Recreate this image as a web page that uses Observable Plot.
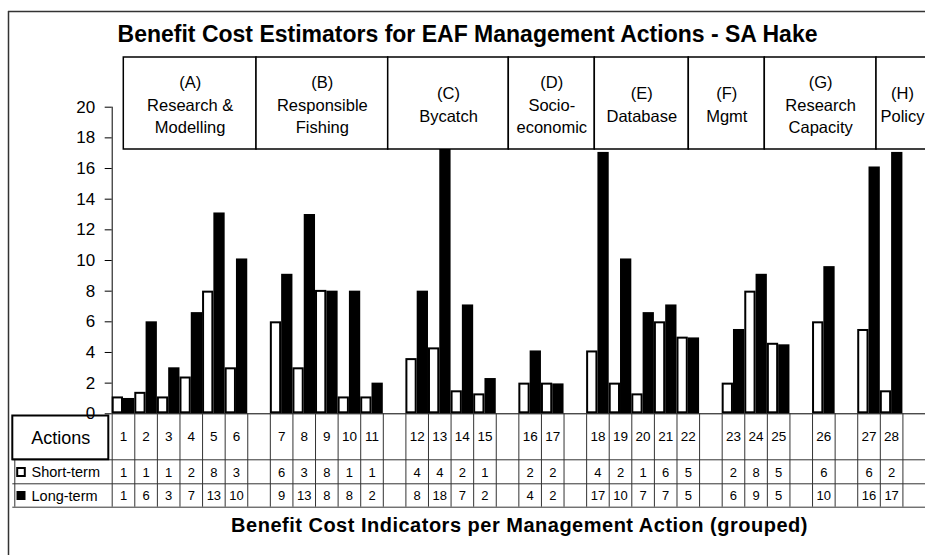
<!DOCTYPE html>
<html>
<head>
<meta charset="utf-8">
<script src="https://cdn.jsdelivr.net/npm/d3@7"></script>
<script src="https://cdn.jsdelivr.net/npm/@observablehq/plot@0.6"></script>
<style>
  html, body { margin: 0; padding: 0; background: #fff; }
  #chart svg { display: block; }
</style>
</head>
<body>
<div id="chart"></div>
<script>
// ---------------- DATA ----------------
const title = "Benefit Cost Estimators for EAF Management Actions - SA Hake";
const xTitle = "Benefit Cost Indicators per Management Action (grouped)";
const actions = [1,2,3,4,5,6, 7,8,9,10,11, 12,13,14,15, 16,17, 18,19,20,21,22, 23,24,25, 26, 27,28];
const groupSizes = [6, 5, 4, 2, 5, 3, 1, 2];
const groupLetters = ["(A)", "(B)", "(C)", "(D)", "(E)", "(F)", "(G)", "(H)"];
const groupNames = ["Research &\nModelling", "Responsible\nFishing", "Bycatch", "Socio-\neconomic", "Database", "Mgmt", "Research\nCapacity", "Policy"];
const shortTerm = [1.1,1.4,1.1,2.4,8.0,3.0, 6.0,3.0,8.05,1.1,1.1, 3.6,4.3,1.5,1.3, 2.0,2.0, 4.1,2.0,1.3,6.0,5.0, 2.0,8.0,4.6, 6.0, 5.5,1.5];
const longTerm  = [1.0,6.0,3.0,6.6,13.1,10.1, 9.1,13.0,8.0,8.0,2.0, 8.0,18.0,7.1,2.3, 4.1,1.95, 17.05,10.1,6.6,7.1,4.95, 5.5,9.1,4.5, 9.6, 16.1,17.05];
const shortLabels = [1,1,1,2,8,3, 6,3,8,1,1, 4,4,2,1, 2,2, 4,2,1,6,5, 2,8,5, 6, 6,2];
const longLabels  = [1,6,3,7,13,10, 9,13,8,8,2, 8,18,7,2, 4,2, 17,10,7,7,5, 6,9,5, 10, 16,17];
const rowNames = ["Actions", "Short-term", "Long-term"];
const yTicks = [0,2,4,6,8,10,12,14,16,18,20];

// ---------------- LAYOUT ----------------
const W = 925, H = 555;
const plotLeft = 111.7, y0px = 413.3, y20px = 106.7;
// column positions: one gap column after each group
const cols = [];
{ let c = 0; groupSizes.forEach(n => { for (let i = 0; i < n; i++) cols.push(c++); c++; }); }
const nCols = cols[cols.length - 1] + 2; // 35
const unit = (W - plotLeft) / nCols;
const X = px => (px - plotLeft) / unit;           // pixel -> x units
const Y = px => 20 * (y0px - px) / (y0px - y20px); // pixel -> y units

const rows = actions.map((a, i) => ({
  action: a, col: cols[i],
  short: shortTerm[i], long: longTerm[i],
  sLab: shortLabels[i], lLab: longLabels[i]
}));

// category boxes (hand-placed edges, pixels)
const boxEdgesPx = [123.3, 256, 387.7, 508.3, 594.3, 688.3, 764.3, 876, 928];
const boxes = groupLetters.map((g, i) => ({
  x1: X(boxEdgesPx[i]), x2: X(boxEdgesPx[i + 1]),
  label: g + "\n" + groupNames[i]
}));
const boxTop = 57, boxBottom = 149;

const font = "'Liberation Sans', Arial, Helvetica, sans-serif";
const lineCol = "#333";

const chart = Plot.plot({
  width: W, height: H,
  marginLeft: plotLeft, marginRight: 0,
  marginTop: y20px, marginBottom: H - y0px,
  style: { fontFamily: font, fontSize: "17px", color: "#000", background: "#fff", overflow: "hidden" },
  x: { domain: [0, nCols], axis: null },
  y: { domain: [0, 20], axis: null },
  marks: [
    // outer chart frame
    Plot.ruleX([X(8)], { y1: Y(11), y2: Y(H + 5), stroke: "#333", strokeWidth: 1.5 }),
    Plot.ruleY([Y(11)], { x1: X(8), x2: X(W + 5), stroke: "#333", strokeWidth: 1.5 }),
    // title
    Plot.text([title], { x: X(467), y: Y(34), text: d => d, fontSize: 23, fontWeight: "bold", fill: "#000" }),
    // bars
    Plot.rectY(rows, { x1: d => d.col, x2: d => d.col + 0.5, y1: 0, y2: "short", fill: "#fff", stroke: "#000", strokeWidth: 2, inset: 1 }),
    Plot.rectY(rows, { x1: d => d.col + 0.5, x2: d => d.col + 1, y1: 0, y2: "long", fill: "#000" }),
    // y axis
    Plot.ruleX([0], { y1: 0, y2: 20, stroke: "#000", strokeWidth: 1 }),
    Plot.axisY({ ticks: yTicks, tickSize: 7, tickPadding: 10, fontSize: 17, stroke: "#000" }),
    // category boxes
    Plot.rect(boxes, { x1: "x1", x2: "x2", y1: Y(boxBottom), y2: Y(boxTop), fill: "#fff", stroke: "#000", strokeWidth: 1.5 }),
    Plot.text(boxes, { x: d => (d.x1 + d.x2) / 2, y: Y((boxTop + boxBottom) / 2), text: "label", fontSize: 16.5, lineHeight: 1.36, fill: "#000" }),
    // table grid
    Plot.ruleY([0], { x1: 0, x2: nCols, stroke: "#000", strokeWidth: 1 }),
    Plot.ruleX(d3.range(0, nCols + 1), { y1: 0, y2: Y(506.7), stroke: lineCol, strokeWidth: 1 }),
    Plot.ruleY([Y(459.3), Y(483.3), Y(506.7)], { x1: X(12.3), x2: nCols + 1, stroke: lineCol, strokeWidth: 1 }),
    Plot.ruleX([X(14.3)], { y1: Y(459.3), y2: Y(506.7), stroke: lineCol, strokeWidth: 1 }),
    Plot.rect([0], { x1: X(12.3), x2: X(108.3), y1: Y(459.3), y2: Y(415.5), fill: "none", stroke: "#000", strokeWidth: 2 }),
    // row headers
    Plot.text([rowNames[0]], { x: X(60.3), y: Y(437.5), text: d => d, fontSize: 18, fill: "#000" }),
    Plot.rect([0], { x1: X(17.2), x2: X(24.8), y1: Y(476), y2: Y(468), fill: "#fff", stroke: "#000", strokeWidth: 2 }),
    Plot.rect([0], { x1: X(16.5), x2: X(25.5), y1: Y(500), y2: Y(491), fill: "#000" }),
    Plot.text([rowNames[1]], { x: X(31), y: Y(472), text: d => d, textAnchor: "start", fontSize: 14.5, fill: "#000" }),
    Plot.text([rowNames[2]], { x: X(31), y: Y(495.5), text: d => d, textAnchor: "start", fontSize: 14.5, fill: "#000" }),
    // table values
    Plot.text(rows, { x: d => d.col + 0.5, y: Y(436.5), text: "action", fontSize: 13.5, fill: "#000" }),
    Plot.text(rows, { x: d => d.col + 0.5, y: Y(472), text: "sLab", fontSize: 13, fill: "#000" }),
    Plot.text(rows, { x: d => d.col + 0.5, y: Y(495.5), text: "lLab", fontSize: 13, fill: "#000" }),
    // x title
    Plot.text([xTitle], { x: X(519), y: Y(525), text: d => d, fontSize: 20, fontWeight: "bold", fill: "#000" })
  ]
});
d3.select(chart).selectAll("text")
  .filter(function () { return this.textContent === xTitle; })
  .style("letter-spacing", "0.5px");
document.getElementById("chart").appendChild(chart);
</script>
</body>
</html>
